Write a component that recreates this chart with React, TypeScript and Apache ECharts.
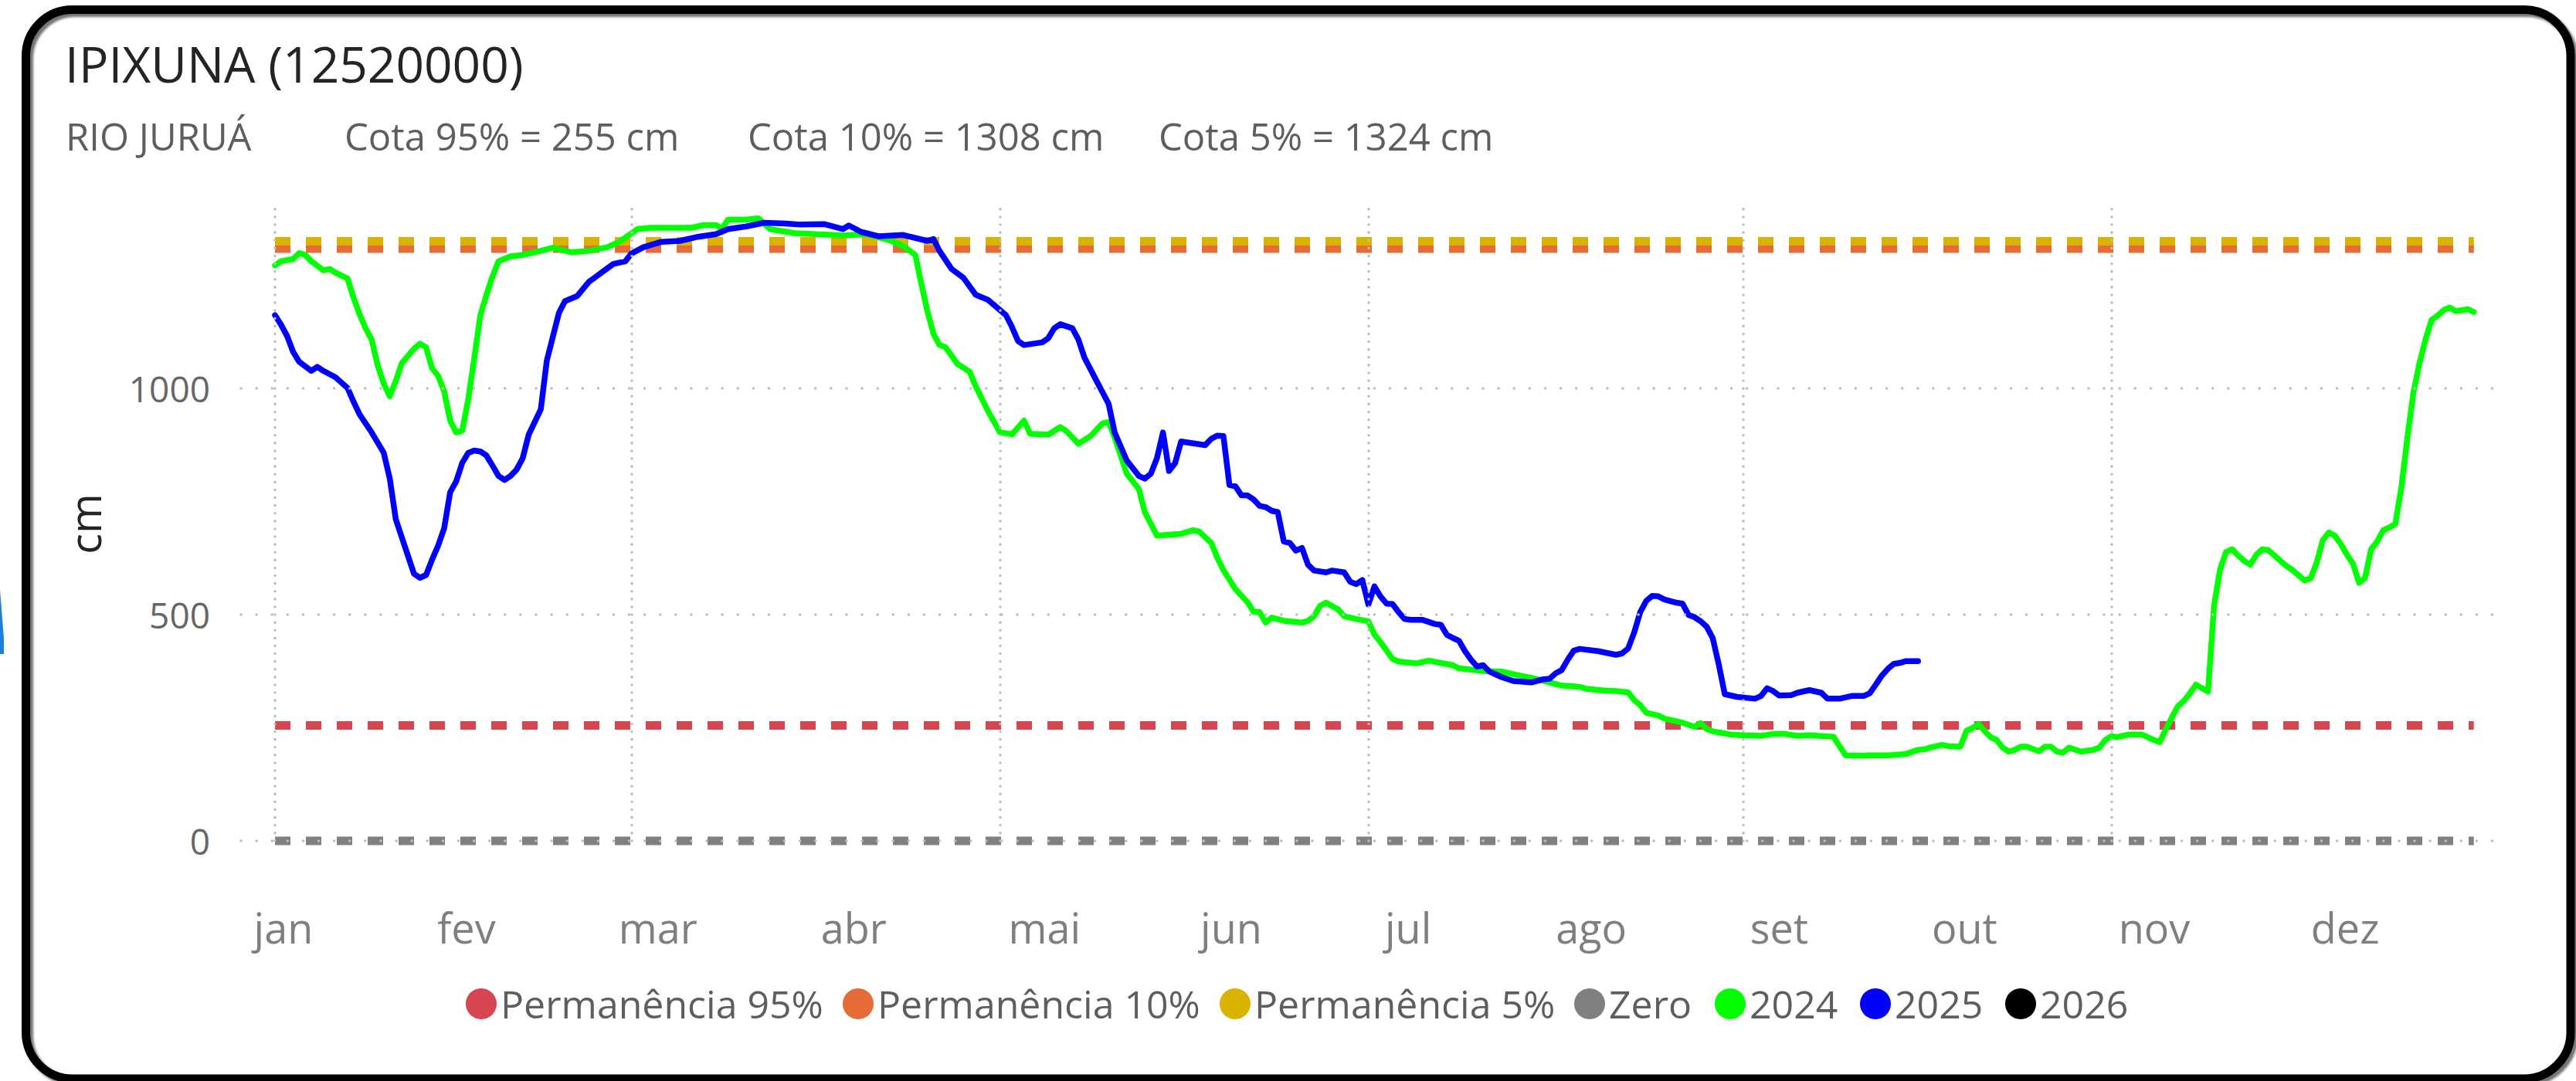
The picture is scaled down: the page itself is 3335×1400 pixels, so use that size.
import React, { useEffect, useRef } from 'react';
import * as echarts from 'echarts';

// ---------- data ----------
const monthLabels = ['jan', 'fev', 'mar', 'abr', 'mai', 'jun', 'jul', 'ago', 'set', 'out', 'nov', 'dez'];
// day-of-year where each month label sits on the axis
const monthLabelDays = [1.4, 31.7, 63.4, 95.8, 127.4, 158.3, 187.6, 217.9, 249.0, 279.7, 311.1, 342.7];
// day-of-year of the vertical grid lines (1 jan, 1 mar, 1 mai, 1 jul, 1 set, 1 nov)
const gridDays = [0, 59, 120, 181, 243, 304];
const yTickValues = [0, 500, 1000];

const firstDay = 0;
const lastDay = 364;
const cota95 = 255;
const cota10 = 1308;
const cota5 = 1324;
const zeroLevel = 0;

const legendNames = ['Permanência 95%', 'Permanência 10%', 'Permanência 5%', 'Zero', '2024', '2025', '2026'];

// [day of year, level in cm]
const serie2024: [number, number][] = [
  [0, 1271], [1, 1280], [3, 1285], [4, 1298], [5, 1294], [6, 1280], [8, 1260], [9, 1263], [10, 1255], [12, 1242],
  [13, 1200], [14, 1163], [15, 1132], [16, 1107], [17, 1050], [18, 1010], [19, 982], [20, 1016], [21, 1055], [23, 1087],
  [24, 1098], [25, 1090], [26, 1044], [27, 1027], [28, 993], [29, 928], [30, 902], [31, 906], [32, 976], [33, 1067],
  [34, 1161], [35, 1206], [36, 1246], [37, 1280], [39, 1291], [41, 1294], [44, 1303], [46, 1310], [49, 1300], [52, 1303],
  [55, 1311], [57, 1323], [60, 1351], [62, 1354], [66, 1354], [69, 1354], [71, 1360], [73, 1360], [74, 1352], [75, 1372],
  [78, 1372], [80, 1375], [82, 1351], [86, 1342], [91, 1339], [94, 1337], [98, 1340], [102, 1325], [104, 1314], [106, 1294],
  [107, 1230], [108, 1170], [109, 1120], [110, 1095], [111, 1090], [113, 1053], [115, 1036], [116, 1004], [118, 950], [120, 902],
  [122, 898], [124, 928], [125, 899], [128, 897], [130, 914], [131, 905], [133, 877], [135, 894], [137, 922], [138, 925],
  [139, 891], [141, 811], [143, 777], [144, 726], [146, 674], [150, 678], [152, 686], [153, 683], [155, 658], [156, 625],
  [157, 598], [159, 556], [161, 527], [162, 506], [163, 505], [164, 482], [165, 493], [167, 486], [170, 482], [171, 486],
  [172, 496], [173, 519], [174, 526], [176, 511], [177, 496], [179, 490], [181, 485], [182, 456], [183, 439], [185, 402],
  [186, 396], [189, 392], [191, 398], [195, 388], [196, 381], [200, 375], [203, 374], [205, 368], [208, 360], [211, 350],
  [213, 343], [216, 340], [217, 336], [220, 332], [222, 331], [224, 328], [225, 311], [226, 300], [227, 283], [229, 277],
  [230, 270], [233, 261], [235, 252], [236, 260], [237, 247], [238, 242], [241, 235], [243, 233], [246, 232], [248, 236],
  [250, 236], [252, 232], [254, 233], [258, 230], [259, 209], [260, 189], [263, 188], [264, 189], [267, 189], [270, 192],
  [272, 201], [273, 202], [274, 206], [276, 212], [277, 209], [279, 208], [280, 243], [281, 249], [282, 258], [283, 243],
  [284, 229], [285, 223], [286, 206], [287, 197], [288, 201], [289, 208], [290, 208], [292, 198], [293, 208], [294, 208],
  [295, 197], [296, 195], [297, 206], [299, 197], [300, 199], [301, 201], [302, 206], [303, 223], [304, 231], [305, 229],
  [307, 235], [309, 235], [311, 223], [312, 218], [313, 246], [314, 272], [315, 297], [316, 309], [317, 326], [318, 345],
  [319, 337], [320, 330], [321, 520], [322, 600], [323, 638], [324, 644], [325, 630], [326, 618], [327, 610], [328, 632],
  [329, 644], [330, 642], [332, 618], [333, 607], [334, 598], [336, 575], [337, 580], [338, 615], [339, 664], [340, 681],
  [341, 674], [342, 655], [343, 632], [344, 612], [345, 570], [346, 581], [347, 644], [348, 661], [349, 686], [350, 692],
  [351, 700], [352, 780], [353, 890], [354, 990], [355, 1055], [356, 1107], [357, 1150], [358, 1160], [359, 1172], [360, 1178],
  [361, 1170], [362, 1172], [363, 1174], [364, 1168],
];

const serie2025: [number, number][] = [
  [0, 1161], [1, 1140], [2, 1115], [3, 1080], [4, 1058], [6, 1038], [7, 1047], [8, 1038], [10, 1024], [12, 1000],
  [13, 970], [14, 942], [16, 902], [18, 857], [19, 800], [20, 710], [21, 670], [22, 630], [23, 590], [24, 581],
  [25, 587], [26, 621], [27, 652], [28, 690], [29, 770], [30, 794], [31, 835], [32, 857], [33, 862], [34, 860],
  [35, 851], [36, 829], [37, 806], [38, 797], [39, 806], [40, 820], [41, 845], [42, 897], [44, 953], [45, 1061],
  [47, 1166], [48, 1192], [50, 1203], [52, 1235], [56, 1274], [58, 1280], [59, 1297], [61, 1311], [64, 1323], [67, 1325],
  [70, 1334], [73, 1340], [75, 1351], [78, 1357], [81, 1365], [85, 1363], [87, 1361], [91, 1362], [94, 1351], [95, 1359],
  [97, 1345], [100, 1335], [104, 1338], [108, 1325], [109, 1329], [110, 1303], [112, 1263], [114, 1243], [116, 1206], [118, 1195],
  [121, 1161], [122, 1135], [123, 1104], [124, 1095], [127, 1101], [128, 1110], [129, 1132], [130, 1141], [132, 1132], [133, 1107],
  [134, 1067], [136, 1016], [138, 965], [139, 902], [141, 840], [143, 806], [144, 800], [145, 811], [146, 845], [147, 902],
  [148, 817], [149, 834], [150, 882], [151, 880], [154, 874], [155, 888], [156, 895], [157, 894], [158, 786], [159, 783],
  [160, 763], [161, 763], [162, 754], [163, 740], [164, 737], [165, 729], [166, 726], [167, 661], [168, 658], [169, 641],
  [170, 647], [171, 610], [172, 597], [174, 593], [175, 597], [177, 593], [178, 572], [179, 567], [180, 576], [181, 522],
  [182, 562], [183, 540], [184, 524], [185, 523], [186, 505], [187, 490], [188, 488], [190, 488], [192, 479], [193, 477],
  [194, 455], [195, 448], [196, 442], [197, 419], [198, 400], [199, 385], [200, 388], [201, 374], [203, 362], [205, 353],
  [208, 350], [210, 357], [211, 358], [212, 370], [213, 377], [214, 400], [215, 420], [216, 424], [219, 419], [222, 411],
  [223, 414], [224, 425], [225, 460], [226, 505], [227, 530], [228, 541], [229, 540], [230, 533], [232, 526], [233, 524],
  [234, 499], [235, 494], [236, 485], [237, 473], [238, 448], [239, 390], [240, 324], [242, 318], [245, 314], [246, 320],
  [247, 337], [248, 331], [249, 321], [251, 322], [252, 327], [254, 333], [256, 327], [257, 314], [259, 314], [261, 320],
  [263, 320], [264, 326], [265, 345], [266, 365], [267, 380], [268, 391], [269, 393], [270, 397], [272, 397],
];

const serie2026: [number, number][] = [];

// ---------- styling ----------
const FONT = "'Open Sans', 'Noto Sans', sans-serif";
const colors = {
  p95: '#D64550',
  p10: '#E66C37',
  p5: '#D9B300',
  zero: '#808080',
  y2024: '#00FF00',
  y2025: '#0000FF',
  y2026: '#000000',
};

const gridDot = '#BDBDBD';

function refLine(name: string, value: number, color: string) {
  return {
    name,
    type: 'line',
    data: [[firstDay, value], [lastDay, value]],
    symbol: 'none',
    clip: false,
    silent: true,
    color,
    itemStyle: { color },
    lineStyle: { color, width: 11, type: [20, 20], cap: 'butt' },
  };
}

function yearLine(name: string, data: [number, number][], color: string) {
  return {
    name,
    type: 'line',
    data,
    symbol: 'none',
    color,
    itemStyle: { color },
    lineStyle: { color, width: 7.5, join: 'round', cap: 'round' },
  };
}

const legendLefts = [603, 1091, 1579, 2038, 2220, 2408, 2596];

function buildOption() {
  return {
    animation: false,
    backgroundColor: '#ffffff',
    grid: { left: 312, right: 101, top: 268, bottom: 311, containLabel: false },
    xAxis: {
      type: 'value',
      min: -5.63,
      max: 368,
      axisLine: { show: false },
      axisTick: { show: false },
      splitLine: { show: false },
      axisLabel: {
        customValues: monthLabelDays,
        formatter: (v: number) => {
          const i = monthLabelDays.findIndex((d) => Math.abs(d - v) < 0.01);
          return i >= 0 ? monthLabels[i] : '';
        },
        margin: 85,
        fontSize: 54,
        color: '#7F7F7F',
        fontFamily: FONT,
      },
    },
    yAxis: {
      type: 'value',
      min: 0,
      max: 1400,
      interval: 500,
      name: 'cm',
      nameLocation: 'middle',
      nameGap: 175,
      nameRotate: 90,
      nameTextStyle: { fontSize: 56, color: '#252423', fontFamily: FONT },
      axisLine: { show: false },
      axisTick: { show: false },
      splitLine: { show: false },
      axisLabel: {
        customValues: yTickValues,
        formatter: (v: number) => (yTickValues.indexOf(v) >= 0 ? String(v) : ''),
        margin: 40,
        fontSize: 46,
        color: '#666666',
        fontFamily: FONT,
      },
    },
    legend: legendNames.map((n, i) => ({
      data: [n],
      left: legendLefts[i],
      top: 1275,
      padding: 0,
      itemWidth: 40,
      itemHeight: 40,
      icon: 'circle',
      selectedMode: false,
      textStyle: { fontSize: 50, color: '#605E5C', fontFamily: FONT },
    })),
    series: [
      {
        name: 'grid',
        type: 'line',
        data: [],
        silent: true,
        markLine: {
          silent: true,
          symbol: ['none', 'none'],
          label: { show: false },
          animation: false,
          data: [
            ...gridDays.map((d) => ({
              xAxis: d,
              lineStyle: { color: gridDot, width: 3.5, type: [0.1, 10], cap: 'round' },
            })),
            ...yTickValues.map((v) => ({
              yAxis: v,
              lineStyle: { color: gridDot, width: 3.5, type: [0.1, 20], cap: 'round' },
            })),
          ],
        },
      },
      refLine('Permanência 95%', cota95, colors.p95),
      refLine('Permanência 10%', cota10, colors.p10),
      refLine('Permanência 5%', cota5, colors.p5),
      refLine('Zero', zeroLevel, colors.zero),
      yearLine('2024', serie2024, colors.y2024),
      yearLine('2025', serie2025, colors.y2025),
      yearLine('2026', serie2026, colors.y2026),
    ],
    graphic: [
      {
        type: 'polygon',
        silent: true,
        shape: { points: [[0, 764], [5, 827], [5, 847], [0, 847]] },
        style: { fill: '#1E7FD8' },
      },
      {
        type: 'rect',
        silent: true,
        z: 100,
        shape: { x: 33.5, y: 12.5, width: 3294.5, height: 1384.5, r: 60 },
        style: {
          fill: 'transparent',
          stroke: '#000000',
          lineWidth: 11,
          shadowBlur: 3,
          shadowOffsetX: 4,
          shadowOffsetY: 4,
          shadowColor: 'rgba(0,0,0,0.55)',
        },
      },
      {
        type: 'text',
        silent: true,
        x: 84,
        y: 82,
        style: {
          text: 'IPIXUNA (12520000)',
          fontSize: 64,
          fontWeight: 500,
          fontFamily: FONT,
          fill: '#252423',
          align: 'left',
          verticalAlign: 'middle',
        },
      },
      ...[
        { t: 'RIO JURUÁ', x: 85 },
        { t: 'Cota 95% = 255 cm', x: 446 },
        { t: 'Cota 10% = 1308 cm', x: 968 },
        { t: 'Cota 5% = 1324 cm', x: 1500 },
      ].map((s) => ({
        type: 'text',
        silent: true,
        x: s.x,
        y: 176,
        style: {
          text: s.t,
          fontSize: 49,
          fontFamily: FONT,
          fill: '#605E5C',
          align: 'left',
          verticalAlign: 'middle',
        },
      })),
    ],
  };
}

export default function App() {
  const ref = useRef<HTMLDivElement>(null);
  useEffect(() => {
    if (!ref.current) return;
    const chart = echarts.init(ref.current, undefined, { renderer: 'svg' });
    chart.setOption(buildOption() as any);
    return () => {
      chart.dispose();
    };
  }, []);
  return (
    <div
      ref={ref}
      style={{ position: 'absolute', left: 0, top: 0, width: 3335, height: 1400, background: '#ffffff' }}
    />
  );
}
